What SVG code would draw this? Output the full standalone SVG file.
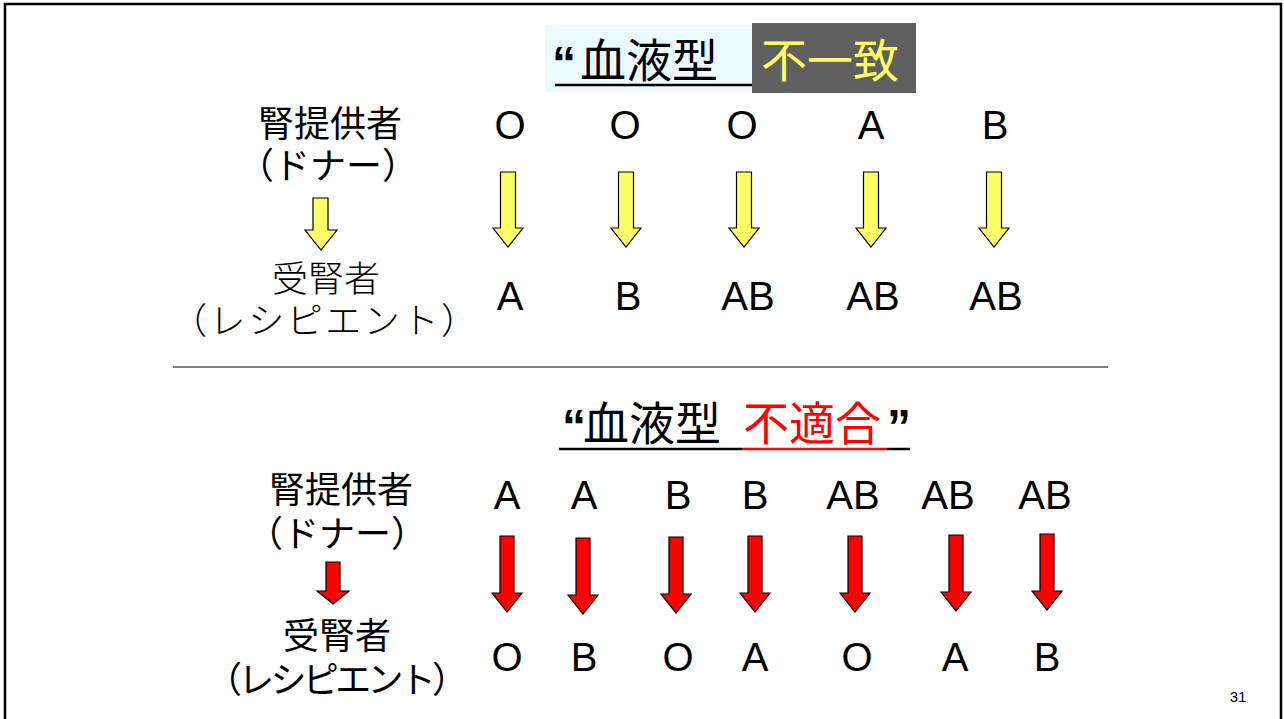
<svg xmlns="http://www.w3.org/2000/svg" width="1284" height="719" viewBox="0 0 1284 719">
<style>
.jp{font-family:"Noto Sans CJK JP","Noto Sans",sans-serif;font-size:36px;fill:#000;text-anchor:middle}
.thin{font-weight:300}
.lt{font-family:"Liberation Sans",Arial,sans-serif;font-size:40px;fill:#000;text-anchor:middle}
.ttl{font-family:"Noto Sans CJK JP","Noto Sans",sans-serif;font-size:46px}
.q{font-family:"Liberation Sans",Arial,sans-serif;font-size:48px;font-weight:bold}
.ya{fill:#FFFF66;stroke:#000;stroke-width:1.2;stroke-linejoin:miter}
.ra{fill:#FF0000;stroke:#000;stroke-width:1.2;stroke-linejoin:miter}
</style>
<defs>
<path id="arrY" d="M-7.5,0 H7.5 V56 H15 L0,75 L-15,56 H-7.5 Z"/>
<path id="arrR" d="M-7,0 H7 V57 H15 L0,76 L-15,57 H-7 Z"/>
</defs>
<rect x="0" y="0" width="1284" height="719" fill="#fff"/>
<rect x="5" y="4" width="1276" height="730" fill="none" stroke="#000" stroke-width="2.5"/>

<g id="title1">
<rect x="545" y="25" width="207" height="67" fill="#EAFAFE"/>
<rect x="752" y="23" width="164" height="70" fill="#5F5F5F"/>
<text class="q" x="552" y="80" fill="#000">“</text>
<text class="ttl" x="580" y="77" fill="#000">血液型</text>
<line x1="555" y1="85" x2="752" y2="85" stroke="#000" stroke-width="2.5"/>
<text class="ttl" x="761" y="77" fill="#FFFF66">不一致</text>
</g>

<g id="top-donor-label">
<text class="jp"><tspan x="330" y="137">腎提供者</tspan><tspan x="328" y="179">（ドナー）</tspan></text>
</g>
<g id="top-recipient-label">
<text class="jp thin"><tspan x="326" y="292">受腎者</tspan><tspan x="324" y="334" textLength="306" lengthAdjust="spacing">（レシピエント）</tspan></text>
</g>

<g id="top-donors">
<text class="lt" x="510" y="139">O</text>
<text class="lt" x="625" y="139">O</text>
<text class="lt" x="742" y="139">O</text>
<text class="lt" x="871" y="139">A</text>
<text class="lt" x="995" y="139">B</text>
</g>
<g id="top-recipients">
<text class="lt" x="510" y="310">A</text>
<text class="lt" x="628" y="310">B</text>
<text class="lt" x="748" y="310">AB</text>
<text class="lt" x="873" y="310">AB</text>
<text class="lt" x="996" y="310">AB</text>
</g>

<line id="separator" x1="173" y1="367" x2="1108" y2="367" stroke="#555" stroke-width="1.5"/>

<g id="title2">
<text class="q" x="562" y="443" fill="#000">“</text>
<text class="ttl" x="583" y="440" fill="#000">血液型</text>
<text class="ttl" x="743" y="440" fill="#FF0000">不適合</text>
<text class="q" x="887" y="443" fill="#000">”</text>
<line x1="559" y1="449" x2="742" y2="449" stroke="#000" stroke-width="2.5"/>
<line x1="742" y1="449" x2="887" y2="449" stroke="#FF0000" stroke-width="2.5"/>
<line x1="887" y1="449" x2="910" y2="449" stroke="#000" stroke-width="2.5"/>
</g>

<g id="bottom-donor-label">
<text class="jp"><tspan x="341" y="503">腎提供者</tspan><tspan x="337" y="547">（ドナー）</tspan></text>
</g>
<g id="bottom-recipient-label">
<text class="jp"><tspan x="337" y="649">受腎者</tspan><tspan x="337" y="693" textLength="262" lengthAdjust="spacing">（レシピエント）</tspan></text>
</g>

<g id="bottom-donors">
<text class="lt" x="507" y="509">A</text>
<text class="lt" x="584" y="509">A</text>
<text class="lt" x="678" y="509">B</text>
<text class="lt" x="755" y="509">B</text>
<text class="lt" x="853" y="509">AB</text>
<text class="lt" x="948" y="509">AB</text>
<text class="lt" x="1045" y="509">AB</text>
</g>
<g id="bottom-recipients">
<text class="lt" x="507" y="671">O</text>
<text class="lt" x="584" y="671">B</text>
<text class="lt" x="678" y="671">O</text>
<text class="lt" x="755" y="671">A</text>
<text class="lt" x="857" y="671">O</text>
<text class="lt" x="955" y="671">A</text>
<text class="lt" x="1047" y="671">B</text>
</g>

<g id="connectors">
<path class="ya" d="M313,198 H328 V230 H337 L321,250 L305,230 H313 Z"/>
<use href="#arrY" class="ya" x="508" y="172"/>
<use href="#arrY" class="ya" x="626" y="172"/>
<use href="#arrY" class="ya" x="744" y="172"/>
<use href="#arrY" class="ya" x="871" y="172"/>
<use href="#arrY" class="ya" x="994" y="172"/>
<path class="ra" d="M326,562 H340 V591 H349 L333,604 L317,591 H326 Z"/>
<use href="#arrR" class="ra" x="507" y="536"/>
<use href="#arrR" class="ra" x="583" y="538"/>
<use href="#arrR" class="ra" x="676" y="537"/>
<use href="#arrR" class="ra" x="755" y="536"/>
<use href="#arrR" class="ra" x="855" y="536"/>
<use href="#arrR" class="ra" x="956" y="535"/>
<use href="#arrR" class="ra" x="1047" y="534"/>
</g>

<text id="page-number" x="1238" y="702" font-family="Liberation Sans, Arial, sans-serif" font-size="15" text-anchor="middle" fill="#000">31</text>
</svg>
